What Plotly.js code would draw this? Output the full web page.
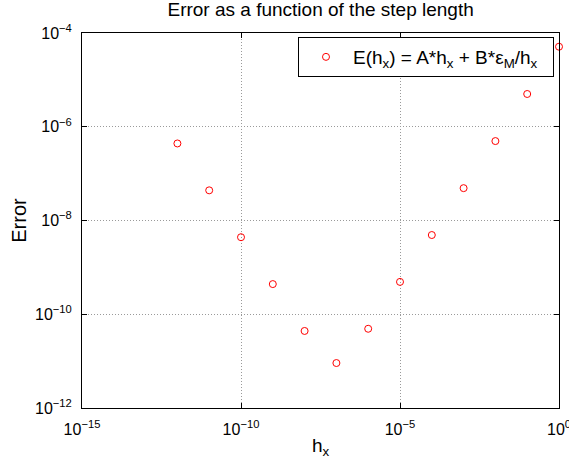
<!DOCTYPE html>
<html>
<head>
<meta charset="utf-8">
<script src="https://cdn.plot.ly/plotly-3.0.1.min.js"></script>
<style>html,body{margin:0;padding:0;background:#fff;}#chart{width:569px;height:467px;}</style>
</head>
<body>
<div id="chart"></div>
<script>
const stepLengths = [1e-12, 1e-11, 1e-10, 1e-9, 1e-8, 1e-7, 1e-6, 1e-5, 1e-4, 1e-3, 1e-2, 1e-1, 1e0];
const errors = [4.4e-7, 4.4e-8, 4.4e-9, 4.4e-10, 4.4e-11, 9.1e-12, 4.9e-11, 4.9e-10, 4.9e-9, 4.9e-8, 4.95e-7, 5.0e-6, 5.1e-5];
const xTickVals = [1e-15, 1e-10, 1e-5, 1];
const xTickText = ['10<sup>−15</sup>', '10<sup>−10</sup>', '10<sup>−5</sup>', '10<sup>0</sup>'];
const yTickVals = [1e-12, 1e-10, 1e-8, 1e-6, 1e-4];
const yTickText = ['10<sup>−12</sup>', '10<sup>−10</sup>', '10<sup>−8</sup>', '10<sup>−6</sup>', '10<sup>−4</sup>'];
const seriesName = 'E(h<sub>x</sub>) = A*h<sub>x</sub> + B*ε<sub>M</sub>/h<sub>x</sub>  ';

const font = 'Liberation Sans, Arial, Helvetica, sans-serif';
const axisCommon = {
  type: 'log', showline: true, linecolor: '#000', linewidth: 1, mirror: 'ticks',
  ticks: 'inside', ticklen: 5, tickcolor: '#000', tickmode: 'array',
  showgrid: true, gridcolor: '#9a9a9a', griddash: '1px,2px', gridwidth: 1,
  zeroline: false, ticklabeloverflow: 'allow', tickfont: {family: font, size: 16, color: '#000'}
};
Plotly.newPlot('chart', [{
  x: stepLengths, y: errors, type: 'scatter', mode: 'markers', name: seriesName,
  marker: {symbol: 'circle-open', size: 7, color: '#ff0000', line: {width: 1, color: '#ff0000'}},
  cliponaxis: false
}], {
  width: 569, height: 467,
  margin: {l: 82, r: 10, t: 33, b: 59},
  paper_bgcolor: '#fff', plot_bgcolor: '#fff',
  title: {text: 'Error as a function of the step length', font: {family: font, size: 19, color: '#000'},
    x: 0.5635, xanchor: 'center', yref: 'container', y: 0.995, yanchor: 'top'},
  xaxis: Object.assign({}, axisCommon, {range: [-15, 0], tickvals: xTickVals, ticktext: xTickText,
    ticklabelstandoff: 7,
    title: {text: 'h<sub>x</sub>', font: {family: font, size: 19, color: '#000'}, standoff: 1}}),
  yaxis: Object.assign({}, axisCommon, {range: [-12, -4], tickvals: yTickVals, ticktext: yTickText,
    ticklabelstandoff: 6,
    title: {text: 'Error', font: {family: font, size: 20, color: '#000'}, standoff: 3}}),
  showlegend: true,
  legend: {x: 0.9895, y: 0.9893, xanchor: 'right', yanchor: 'top', bordercolor: '#000', borderwidth: 1,
    bgcolor: '#fff', itemwidth: 44, font: {family: font, size: 19, color: '#000'}}
}, {staticPlot: true});
</script>
</body>
</html>
